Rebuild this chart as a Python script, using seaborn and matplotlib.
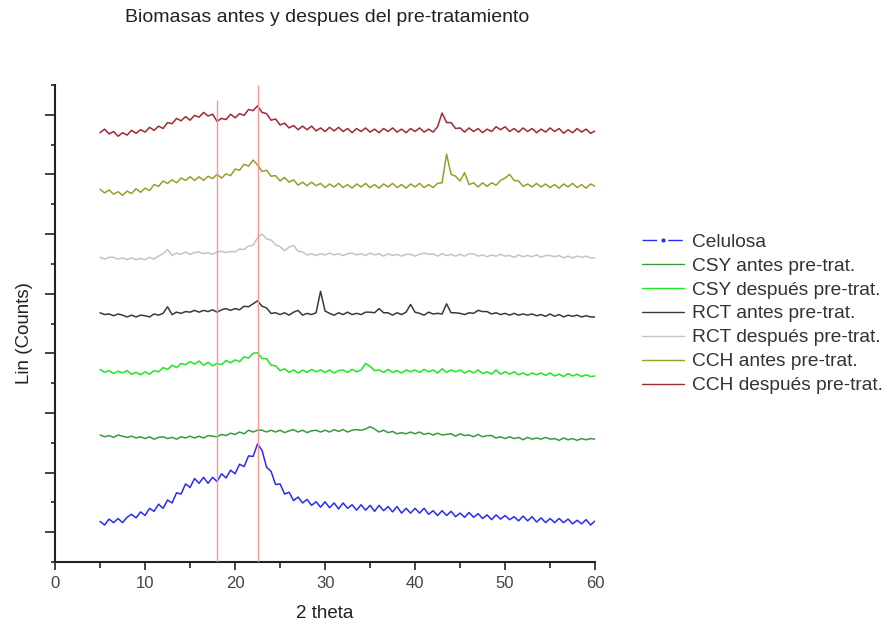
"""
XRD patterns of biomasses before / after pre-treatment
"""

import numpy as np
import pandas as pd
import matplotlib.pyplot as plt
import seaborn as sns
from matplotlib.lines import Line2D
from matplotlib.ticker import MultipleLocator

sns.set_style("ticks")
plt.rcParams['font.family'] = ['Liberation Sans', 'DejaVu Sans']

# 2 theta grid (degrees), one reading every 0.5 deg
two_theta = np.arange(5.0, 60.01, 0.5)

# intensities (arbitrary units, curves already offset)
celulosa = [18, 12, 22, 16, 23, 16, 25, 30, 24, 34,
            28, 40, 35, 47, 40, 54, 49, 66, 64, 81,
            75, 90, 82, 92, 82, 92, 85, 98, 91, 104,
            98, 114, 110, 128, 127, 148, 137, 109, 102, 80,
            81, 64, 67, 53, 59, 49, 55, 45, 51, 42,
            51, 41, 49, 39, 49, 40, 46, 37, 46, 37,
            45, 35, 45, 36, 43, 34, 43, 32, 40, 32,
            40, 32, 40, 30, 36, 28, 36, 28, 35, 26,
            32, 25, 33, 25, 31, 23, 29, 21, 29, 22,
            28, 21, 26, 19, 27, 19, 26, 17, 24, 16,
            23, 16, 23, 16, 22, 14, 20, 14, 21, 12,
            19]

csy_antes = [163, 160, 162, 159, 163, 161, 159, 161, 158, 160,
             157, 160, 156, 159, 160, 157, 159, 156, 160, 158,
             161, 158, 161, 158, 162, 161, 160, 164, 162, 166,
             164, 168, 165, 171, 168, 171, 171, 168, 171, 168,
             171, 167, 170, 172, 168, 171, 167, 170, 171, 168,
             171, 168, 172, 169, 172, 168, 171, 172, 171, 173,
             177, 173, 168, 171, 167, 169, 165, 167, 165, 168,
             165, 168, 164, 166, 163, 166, 163, 164, 165, 161,
             165, 162, 163, 160, 164, 160, 162, 162, 158, 160,
             157, 160, 157, 159, 155, 159, 156, 158, 156, 159,
             156, 157, 154, 158, 155, 157, 154, 157, 155, 157,
             156]

csy_despues = [273, 268, 271, 266, 270, 267, 271, 265, 268, 264,
               269, 265, 271, 269, 276, 273, 280, 276, 283, 281,
               286, 282, 287, 280, 285, 279, 283, 281, 288, 284,
               289, 286, 294, 292, 300, 301, 291, 291, 280, 279,
               271, 274, 268, 272, 267, 272, 268, 273, 269, 272,
               268, 272, 267, 271, 272, 268, 273, 269, 272, 283,
               278, 271, 272, 268, 273, 268, 271, 267, 272, 269,
               272, 268, 273, 269, 272, 267, 274, 268, 272, 269,
               272, 267, 271, 267, 272, 266, 269, 265, 272, 265,
               269, 265, 269, 264, 267, 263, 267, 264, 267, 263,
               267, 262, 265, 261, 266, 262, 265, 261, 264, 261,
               262]

rct_antes = [368, 365, 366, 363, 366, 364, 361, 364, 361, 364,
             363, 361, 366, 364, 367, 378, 365, 369, 367, 370,
             369, 372, 369, 372, 370, 373, 369, 373, 375, 372,
             375, 373, 379, 378, 383, 388, 379, 376, 367, 368,
             365, 368, 364, 369, 372, 364, 367, 365, 368, 404,
             371, 367, 364, 368, 365, 369, 365, 367, 365, 369,
             369, 368, 375, 368, 368, 364, 368, 365, 369, 382,
             369, 367, 364, 369, 366, 367, 366, 383, 368, 368,
             367, 365, 368, 367, 372, 370, 370, 366, 368, 365,
             367, 364, 367, 364, 366, 364, 366, 363, 365, 362,
             366, 362, 365, 361, 364, 362, 364, 361, 363, 361,
             361]

rct_despues = [461, 458, 461, 461, 458, 460, 457, 460, 457, 459,
               457, 461, 458, 463, 467, 474, 464, 468, 466, 470,
               466, 469, 470, 467, 469, 466, 470, 471, 469, 471,
               470, 475, 474, 480, 481, 494, 500, 492, 490, 482,
               479, 472, 478, 481, 471, 470, 465, 467, 464, 467,
               465, 468, 465, 467, 464, 467, 468, 465, 467, 464,
               468, 465, 467, 463, 467, 464, 466, 463, 466, 466,
               463, 466, 468, 466, 467, 463, 467, 464, 466, 463,
               466, 463, 467, 467, 463, 465, 462, 465, 463, 466,
               463, 464, 461, 465, 462, 464, 462, 465, 461, 464,
               464, 462, 464, 460, 463, 460, 463, 461, 463, 460,
               460]

cch_antes = [575, 569, 574, 567, 571, 565, 572, 568, 576, 570,
             577, 573, 583, 580, 589, 585, 591, 586, 594, 590,
             596, 590, 596, 590, 597, 593, 600, 594, 601, 598,
             609, 607, 617, 614, 624, 616, 605, 607, 597, 598,
             589, 595, 587, 591, 582, 587, 581, 587, 581, 585,
             578, 584, 579, 585, 578, 583, 577, 584, 579, 585,
             578, 583, 577, 584, 579, 585, 578, 583, 577, 584,
             579, 585, 578, 583, 578, 585, 586, 634, 600, 597,
             589, 603, 583, 586, 579, 586, 580, 586, 582, 590,
             594, 600, 590, 589, 580, 584, 579, 585, 579, 584,
             578, 583, 577, 584, 579, 585, 578, 583, 577, 584,
             580]

cch_despues = [670, 676, 668, 672, 664, 670, 666, 674, 669, 675,
               671, 679, 674, 681, 677, 687, 685, 694, 690, 697,
               691, 699, 696, 704, 698, 701, 689, 694, 692, 701,
               695, 702, 699, 709, 707, 715, 704, 702, 691, 693,
               683, 686, 678, 682, 675, 681, 675, 681, 673, 678,
               672, 679, 673, 679, 672, 677, 670, 677, 672, 678,
               671, 676, 670, 677, 672, 678, 671, 676, 670, 677,
               672, 678, 671, 676, 671, 680, 703, 687, 687, 677,
               678, 671, 678, 672, 677, 670, 676, 672, 680, 675,
               680, 672, 677, 671, 678, 672, 677, 670, 676, 671,
               678, 672, 677, 669, 675, 670, 677, 671, 676, 669,
               673]

series_names = ['Celulosa', 'CSY antes pre-trat.', 'CSY después pre-trat.',
                'RCT antes pre-trat.', 'RCT después pre-trat.',
                'CCH antes pre-trat.', 'CCH después pre-trat.']
series_values = [celulosa, csy_antes, csy_despues, rct_antes, rct_despues,
                 cch_antes, cch_despues]
series_colors = ['#2b2bf5', '#3a9a3a', '#22e622', '#3a3a3a', '#c4c4c4',
                 '#9c9c2a', '#9e2a36']

# reference lines (cellulose peaks)
ref_x = [18.0, 22.5]
ref_top = [725, 750]

df = pd.concat([pd.DataFrame({'two_theta': two_theta, 'counts': vals, 'sample': name})
                for name, vals in zip(series_names, series_values)], ignore_index=True)

fig = plt.figure(figsize=(8.95, 6.25), dpi=100)
ax = fig.add_axes([0.0615, 0.1008, 0.6034, 0.7632])

sns.lineplot(data=df, x='two_theta', y='counts', hue='sample', hue_order=series_names,
             palette=dict(zip(series_names, series_colors)), estimator=None, sort=False,
             linewidth=1.1, legend=False, ax=ax)

ax.vlines(ref_x, -50, ref_top, colors='#ff9494', linewidth=1, zorder=5)

ax.set_xlim(0, 60)
ax.set_ylim(-50, 750)
ax.xaxis.set_major_locator(MultipleLocator(10))
ax.xaxis.set_minor_locator(MultipleLocator(5))
ax.yaxis.set_major_locator(MultipleLocator(100))
ax.yaxis.set_minor_locator(MultipleLocator(50))
ax.set_xlabel('')
ax.set_ylabel('')
ax.tick_params(axis='both', which='both', direction='out', width=1.2, color='#222222')
ax.tick_params(axis='x', which='major', length=6, labelsize=12, labelcolor='#444444', pad=4)
ax.tick_params(axis='x', which='minor', length=4)
ax.tick_params(axis='y', which='major', length=7, labelleft=False)
ax.tick_params(axis='y', which='minor', length=3)
sns.despine(ax=ax)
for side in ['left', 'bottom']:
    ax.spines[side].set_linewidth(1.5)
    ax.spines[side].set_color('#222222')

fig.text(0.3654, 1 - 18 / 625, 'Biomasas antes y despues del pre-tratamiento',
         ha='center', va='center', fontsize=14, color='#222222')
fig.text(0.3626, 1 - 613 / 625, '2 theta', ha='center', va='center', fontsize=13.5, color='#222222')
fig.text(25 / 895, 1 - 333 / 625, 'Lin (Counts)', ha='center', va='center', rotation=90,
         fontsize=13.5, color='#222222')

handles = [Line2D([], [], color=series_colors[0], linewidth=1, linestyle=(0, (10.5, 8)),
                  marker='.', markersize=4)]
handles += [Line2D([], [], color=c, linewidth=1) for c in series_colors[1:]]
fig.legend(handles, series_names, loc='upper left', bbox_to_anchor=(0.6983, 0.6544),
           frameon=False, fontsize=13.8, handlelength=2.2, handletextpad=0.4,
           labelspacing=0.34, borderpad=0.4, numpoints=1, labelcolor='#333333')

fig.savefig('out.png', dpi=100)
